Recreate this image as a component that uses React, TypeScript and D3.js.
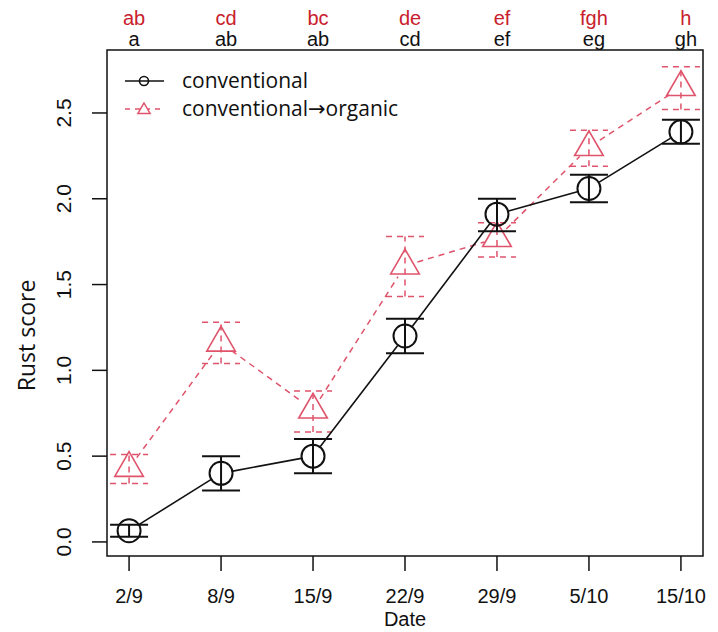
import * as d3 from "d3";

const dates = ["2/9", "8/9", "15/9", "22/9", "29/9", "5/10", "15/10"];
const convMean = [0.065, 0.4, 0.5, 1.2, 1.91, 2.06, 2.39];
const convLow = [0.03, 0.3, 0.4, 1.1, 1.81, 1.98, 2.32];
const convHigh = [0.1, 0.5, 0.6, 1.3, 2.0, 2.14, 2.46];
const orgMean = [0.43, 1.16, 0.77, 1.61, 1.77, 2.3, 2.65];
const orgLow = [0.34, 1.04, 0.64, 1.43, 1.66, 2.19, 2.52];
const orgHigh = [0.51, 1.28, 0.88, 1.78, 1.86, 2.4, 2.77];
const convLetters = ["a", "ab", "ab", "cd", "ef", "eg", "gh"];
const orgLetters = ["ab", "cd", "bc", "de", "ef", "fgh", "h"];
const yTicks = [0, 0.5, 1, 1.5, 2, 2.5];

const W = 718;
const H = 632;
const RED = "#df536b";
const RED_TEXT = "#c8202c";
const AXIS_FONT = "'Liberation Sans', Arial, sans-serif";
const LABEL_FONT = "'Open Sans', 'Noto Sans', sans-serif";

const x = d3.scaleLinear().domain([-0.24, 6.24]).range([107, 703]);
const y = d3.scaleLinear().domain([-0.082, 2.867]).range([556, 50]);

// R type="b": segments with a gap around each point
function gappedSegments(vals: number[], gap: number) {
  const segs: [number, number, number, number][] = [];
  for (let i = 0; i < vals.length - 1; i++) {
    const x1 = x(i), y1 = y(vals[i]), x2 = x(i + 1), y2 = y(vals[i + 1]);
    const len = Math.hypot(x2 - x1, y2 - y1);
    if (len <= 2 * gap) continue;
    const dx = (x2 - x1) / len, dy = (y2 - y1) / len;
    segs.push([x1 + dx * gap, y1 + dy * gap, x2 - dx * gap, y2 - dy * gap]);
  }
  return segs;
}

function triangle(cx: number, cy: number, r: number) {
  const p = d3.path();
  p.moveTo(cx, cy - r);
  p.lineTo(cx + 0.866 * r, cy + r / 2);
  p.lineTo(cx - 0.866 * r, cy + r / 2);
  p.closePath();
  return p.toString();
}

export default function App() {
  const capW = 19;
  return (
    <svg
      width={W}
      height={H}
      style={{ position: "absolute", left: 0, top: 0, background: "#fff" }}
    >
      {/* significance letters */}
      {dates.map((_, i) => (
        <g key={"let" + i} fontFamily={AXIS_FONT} fontSize={20} textAnchor="middle">
          <text x={x(i) + 5} y={25} fill={RED_TEXT}>{orgLetters[i]}</text>
          <text x={x(i) + 5} y={46} fill="#111">{convLetters[i]}</text>
        </g>
      ))}

      {/* box */}
      <rect x={107} y={50} width={596} height={506} fill="none" stroke="#111" strokeWidth={1.5} />

      {/* y axis */}
      {yTicks.map((t) => (
        <g key={"yt" + t}>
          <line x1={92} x2={107} y1={y(t)} y2={y(t)} stroke="#111" strokeWidth={1.5} />
          <text
            transform={`translate(71,${y(t)}) rotate(-90)`}
            textAnchor="middle"
            fontFamily={AXIS_FONT}
            fontSize={21}
            fill="#111"
          >
            {t.toFixed(1)}
          </text>
        </g>
      ))}
      <text
        transform={`translate(35,${(y(0) + y(2.5)) / 2 + 8}) rotate(-90)`}
        textAnchor="middle"
        fontFamily={LABEL_FONT}
        fontSize={23}
        fill="#111"
      >
        Rust score
      </text>

      {/* x axis */}
      {dates.map((d, i) => (
        <g key={"xt" + d}>
          <line x1={x(i)} x2={x(i)} y1={556} y2={571} stroke="#111" strokeWidth={1.5} />
          <text x={x(i)} y={603} textAnchor="middle" fontFamily={AXIS_FONT} fontSize={20} fill="#111">
            {d}
          </text>
        </g>
      ))}
      <text x={405} y={626} textAnchor="middle" fontFamily={AXIS_FONT} fontSize={20} fill="#111">
        Date
      </text>

      {/* conventional -> organic (red, dashed) */}
      <g stroke={RED} strokeWidth={1.5} fill="none">
        {gappedSegments(orgMean, 13).map((s, i) => (
          <line key={"os" + i} x1={s[0]} y1={s[1]} x2={s[2]} y2={s[3]} strokeDasharray="6,5" />
        ))}
        {orgMean.map((v, i) => (
          <g key={"oe" + i} strokeDasharray="6,5">
            <line x1={x(i)} x2={x(i)} y1={y(orgLow[i])} y2={y(orgHigh[i])} />
            <line x1={x(i) - capW} x2={x(i) + capW} y1={y(orgLow[i])} y2={y(orgLow[i])} />
            <line x1={x(i) - capW} x2={x(i) + capW} y1={y(orgHigh[i])} y2={y(orgHigh[i])} />
          </g>
        ))}
        {orgMean.map((v, i) => (
          <path key={"ot" + i} d={triangle(x(i), y(v), 16.5)} strokeWidth={1.6} />
        ))}
      </g>

      {/* conventional (black, solid) */}
      <g stroke="#111" fill="none">
        {gappedSegments(convMean, 12).map((s, i) => (
          <line key={"cs" + i} x1={s[0]} y1={s[1]} x2={s[2]} y2={s[3]} strokeWidth={1.6} />
        ))}
        {convMean.map((v, i) => (
          <g key={"ce" + i} strokeWidth={2}>
            <line x1={x(i)} x2={x(i)} y1={y(convLow[i])} y2={y(convHigh[i])} />
            <line x1={x(i) - capW} x2={x(i) + capW} y1={y(convLow[i])} y2={y(convLow[i])} />
            <line x1={x(i) - capW} x2={x(i) + capW} y1={y(convHigh[i])} y2={y(convHigh[i])} />
          </g>
        ))}
        {convMean.map((v, i) => (
          <circle key={"cc" + i} cx={x(i)} cy={y(v)} r={11.5} strokeWidth={2} />
        ))}
      </g>

      {/* legend */}
      <g>
        <line x1={125} x2={164} y1={81} y2={81} stroke="#111" strokeWidth={1.6} />
        <circle cx={144} cy={81} r={4.5} fill="none" stroke="#111" strokeWidth={1.6} />
        <text x={182} y={88} fontFamily={LABEL_FONT} fontSize={21} fill="#111">
          conventional
        </text>
        <line x1={125} x2={164} y1={109} y2={109} stroke={RED} strokeWidth={1.5} strokeDasharray="5,5" />
        <path d={triangle(144, 110, 7)} fill="#fff" stroke={RED} strokeWidth={1.5} />
        <text x={182} y={116} fontFamily={LABEL_FONT} fontSize={21} fill="#111">
          conventional
          <tspan fontFamily="'DejaVu Sans', sans-serif">→</tspan>
          organic
        </text>
      </g>
    </svg>
  );
}
